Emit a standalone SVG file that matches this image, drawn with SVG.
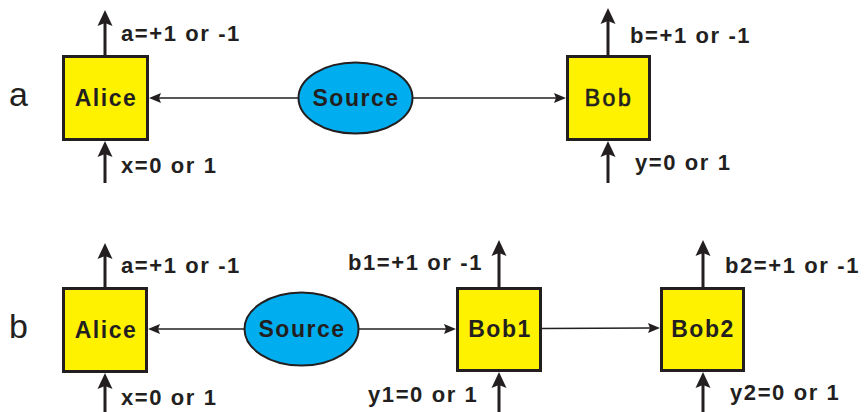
<svg xmlns="http://www.w3.org/2000/svg" width="865" height="412" viewBox="0 0 865 412">
<style>
.box{fill:#fff200;stroke:#231f20;stroke-width:3}
.src{fill:#00aeef;stroke:#231f20;stroke-width:2}
.nl{font-family:"Liberation Sans",Arial,sans-serif;font-weight:bold;font-size:23px;letter-spacing:1.5px;fill:#231f20;text-anchor:middle}
.lb{font-family:"Liberation Sans",Arial,sans-serif;font-weight:bold;font-size:22px;letter-spacing:1.6px;fill:#231f20}
.pl{font-family:"Liberation Sans",Arial,sans-serif;font-size:34px;fill:#231f20}
.io{stroke:#231f20;stroke-width:3;fill:none;marker-end:url(#big)}
.cn{stroke:#231f20;stroke-width:1.6;fill:none;marker-end:url(#small)}
</style>
<defs>
<marker id="big" markerUnits="userSpaceOnUse" orient="auto" refX="0" refY="0" overflow="visible">
<path d="M-3,-7.5 L13,0 L-3,7.5 L0,0 Z" fill="#231f20"/>
</marker>
<marker id="small" markerUnits="userSpaceOnUse" orient="auto" refX="0" refY="0" overflow="visible">
<path d="M-2,-5 L10,0 L-2,5 L0,0 Z" fill="#231f20"/>
</marker>
</defs>
<rect width="865" height="412" fill="#fff"/>
<text class="pl" x="9" y="106">a</text>
<text class="pl" x="9" y="338">b</text>
<g id="connectors">
<line class="io" x1="105" y1="56" x2="105" y2="23"/>
<line class="io" x1="105" y1="183" x2="105" y2="154"/>
<line class="io" x1="608" y1="56" x2="608" y2="21"/>
<line class="io" x1="608" y1="183" x2="608" y2="154"/>
<line class="cn" x1="298" y1="98" x2="159" y2="98"/>
<line class="cn" x1="413" y1="98" x2="556" y2="98"/>
<line class="io" x1="105" y1="288" x2="105" y2="256"/>
<line class="io" x1="105" y1="412" x2="105" y2="386"/>
<line class="io" x1="499" y1="288" x2="499" y2="253"/>
<line class="io" x1="499" y1="412" x2="499" y2="385"/>
<line class="io" x1="703" y1="288" x2="703" y2="253"/>
<line class="io" x1="703" y1="412" x2="703" y2="385"/>
<line class="cn" x1="244" y1="329" x2="158" y2="329"/>
<line class="cn" x1="359" y1="329" x2="446" y2="329"/>
<line class="cn" x1="542" y1="328.5" x2="650" y2="328"/>
<text class="lb" x="121" y="41">a=+1 or -1</text>
<text class="lb" x="121" y="173">x=0 or 1</text>
<text class="lb" x="630" y="43">b=+1 or -1</text>
<text class="lb" x="635" y="170">y=0 or 1</text>
<text class="lb" x="121" y="273">a=+1 or -1</text>
<text class="lb" x="121" y="405">x=0 or 1</text>
<text class="lb" x="348" y="270">b1=+1 or -1</text>
<text class="lb" x="368" y="402">y1=0 or 1</text>
<text class="lb" x="725" y="273">b2=+1 or -1</text>
<text class="lb" x="730" y="400">y2=0 or 1</text>
</g>
<g id="alice-a">
<rect class="box" x="63.5" y="56.5" width="84" height="83"/>
<text class="nl" x="106" y="106">Alice</text>
</g>
<g id="source-a">
<ellipse class="src" cx="355.5" cy="98" rx="57" ry="35.5"/>
<text class="nl" x="356" y="106">Source</text>
</g>
<g id="bob-a">
<rect class="box" x="567.5" y="56.5" width="82" height="83"/>
<text class="nl" x="609" y="106" style="font-weight:normal;letter-spacing:2.5px;stroke:#231f20;stroke-width:0.7">Bob</text>
</g>
<g id="alice-b">
<rect class="box" x="63.5" y="288.5" width="83" height="83"/>
<text class="nl" x="106" y="338">Alice</text>
</g>
<g id="source-b">
<ellipse class="src" cx="301.5" cy="329" rx="57" ry="36.5"/>
<text class="nl" x="302" y="337">Source</text>
</g>
<g id="bob1">
<rect class="box" x="457.5" y="288.5" width="83" height="82"/>
<text class="nl" x="500" y="337">Bob1</text>
</g>
<g id="bob2">
<rect class="box" x="661.5" y="288.5" width="82" height="82"/>
<text class="nl" x="703" y="337">Bob2</text>
</g>
</svg>
